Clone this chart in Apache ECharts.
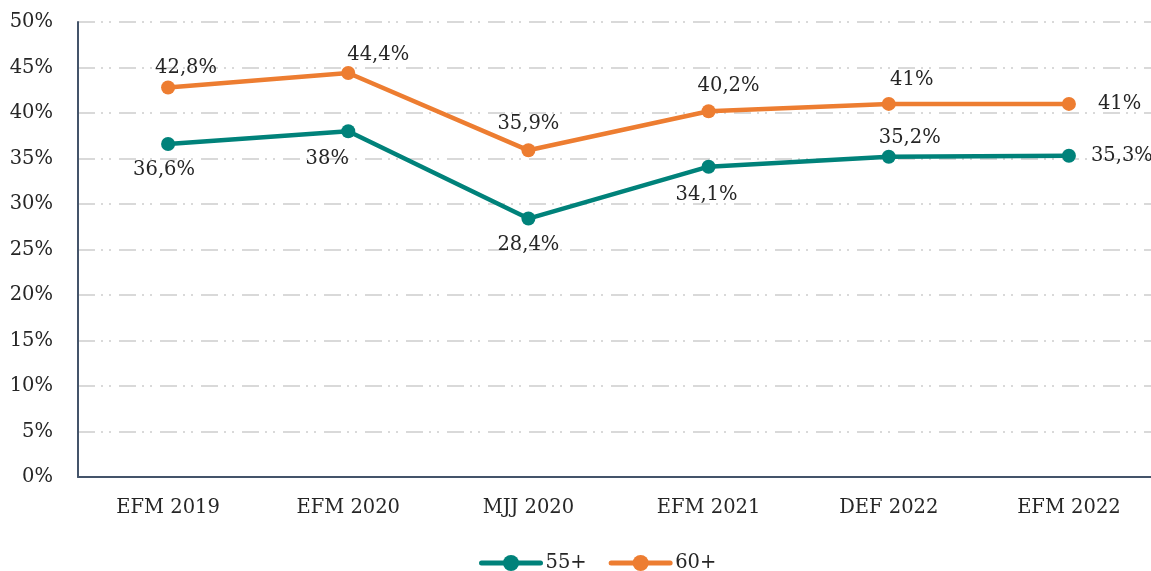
<!DOCTYPE html>
<html>
<head>
<meta charset="utf-8">
<script src="https://cdn.jsdelivr.net/npm/echarts@6/dist/echarts.min.js"></script>
<style>html,body{margin:0;padding:0;background:#fff;overflow:hidden;width:1151px;height:571px;}#c{width:1159px;height:571px;}</style>
</head>
<body>
<div id="c"></div>
<script>
const categories = ['EFM 2019', 'EFM 2020', 'MJJ 2020', 'EFM 2021', 'DEF 2022', 'EFM 2022'];
const values55 = [36.6, 38, 28.4, 34.1, 35.2, 35.3];
const values60 = [42.8, 44.4, 35.9, 40.2, 41, 41];
const yTicks = [0, 5, 10, 15, 20, 25, 30, 35, 40, 45, 50];

const pos55 = [['bottom', [-4, 4]], ['bottom', [-21, 6]], ['bottom', [0, 4]], ['bottom', [-2, 6]], ['top', [21, 3]], ['right', [10, 0]]];
const pos60 = [['top', [18, 2]], ['top', [30, 4]], ['top', [0, -4]], ['top', [20, -3]], ['top', [23, -2]], ['right', [17, 0]]];

const FONT = '"DejaVu Serif", "Liberation Serif", serif';
const FS = 19.5;
const fmt = v => String(v).replace('.', ',') + '%';

function mk(vals, pos) {
  return vals.map((v, i) => ({
    value: v,
    label: { position: pos[i][0], offset: pos[i][1] }
  }));
}

const chart = echarts.init(document.getElementById('c'), null, { renderer: 'canvas' });
chart.setOption({
  animation: false,
  backgroundColor: '#fff',
  grid: { left: 78, right: 0, top: 22, bottom: 94 },
  xAxis: {
    type: 'category',
    data: categories,
    boundaryGap: true,
    axisLine: { lineStyle: { color: '#44546a', width: 2 } },
    axisTick: { show: false },
    axisLabel: { color: '#262626', fontFamily: FONT, fontSize: FS, margin: 21 }
  },
  yAxis: {
    type: 'value',
    min: 0, max: 50, interval: 5,
    axisLine: { show: true, lineStyle: { color: '#44546a', width: 2 } },
    axisTick: { show: false },
    axisLabel: { color: '#262626', fontFamily: FONT, fontSize: FS, margin: 25, formatter: v => yTicks.includes(v) ? v + '%' : '' },
    splitLine: { lineStyle: { color: '#d9d9d9', width: 2, type: [17, 6, 2, 6, 2, 8] } }
  },
  legend: {
    top: 548,
    left: 474,
    itemWidth: 59,
    itemHeight: 20,
    itemGap: 22,
    lineStyle: { width: 5, cap: 'round' },
    textStyle: { color: '#262626', fontFamily: FONT, fontSize: FS },
    data: ['55+', '60+']
  },
  series: [
    {
      name: '55+', type: 'line', data: mk(values55, pos55),
      color: '#00827a',
      lineStyle: { width: 4.5, color: '#00827a' },
      symbol: 'circle', symbolSize: 14,
      itemStyle: { color: '#00827a' },
      label: { show: true, color: '#262626', fontFamily: FONT, fontSize: FS, formatter: p => fmt(p.value) }
    },
    {
      name: '60+', type: 'line', data: mk(values60, pos60),
      color: '#ed7d31',
      lineStyle: { width: 4.5, color: '#ed7d31' },
      symbol: 'circle', symbolSize: 14,
      itemStyle: { color: '#ed7d31' },
      label: { show: true, color: '#262626', fontFamily: FONT, fontSize: FS, formatter: p => fmt(p.value) }
    }
  ]
});
</script>
</body>
</html>
